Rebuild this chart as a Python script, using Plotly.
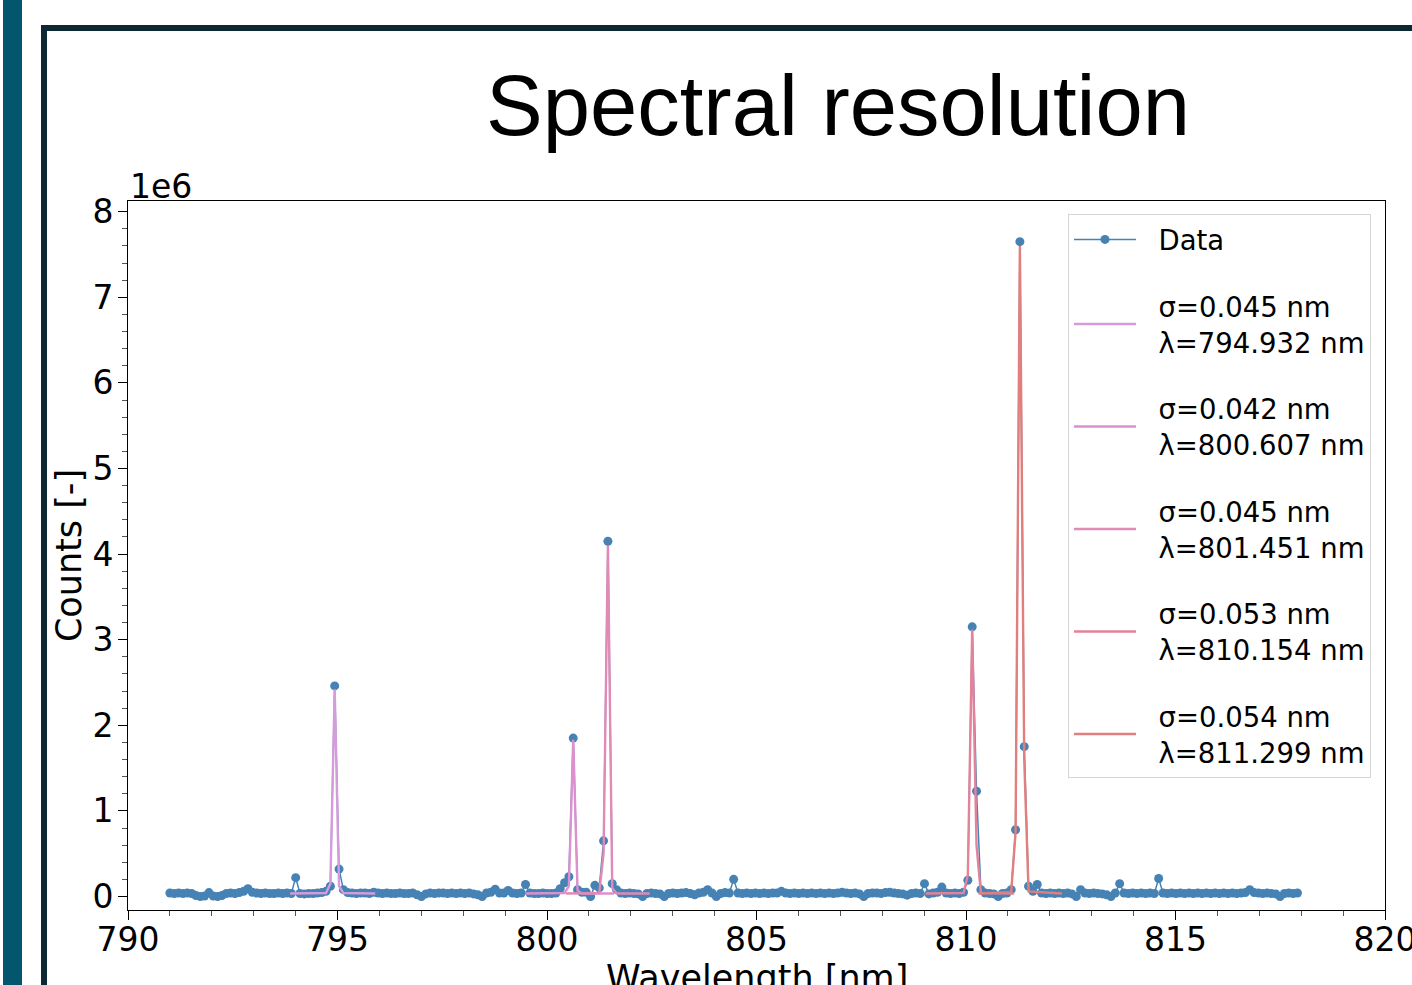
import plotly.graph_objects as go

# ---------------- data ----------------
wavelength_nm = [
    791.000, 791.104, 791.207, 791.311, 791.414, 791.518, 791.621, 791.725, 791.828, 791.932,
    792.035, 792.139, 792.242, 792.346, 792.449, 792.553, 792.656, 792.760, 792.863, 792.967,
    793.070, 793.174, 793.277, 793.381, 793.484, 793.588, 793.691, 793.795, 793.898, 794.002,
    794.105, 794.209, 794.312, 794.416, 794.519, 794.623, 794.726, 794.830, 794.933, 795.037,
    795.140, 795.244, 795.347, 795.451, 795.554, 795.658, 795.761, 795.865, 795.968, 796.072,
    796.175, 796.279, 796.382, 796.486, 796.589, 796.693, 796.796, 796.900, 797.003, 797.107,
    797.210, 797.314, 797.417, 797.521, 797.624, 797.728, 797.831, 797.935, 798.038, 798.142,
    798.245, 798.349, 798.452, 798.556, 798.659, 798.763, 798.866, 798.970, 799.073, 799.177,
    799.280, 799.384, 799.487, 799.591, 799.694, 799.798, 799.901, 800.005, 800.108, 800.212,
    800.315, 800.419, 800.522, 800.626, 800.729, 800.833, 800.936, 801.040, 801.143, 801.247,
    801.350, 801.454, 801.557, 801.661, 801.764, 801.868, 801.971, 802.075, 802.178, 802.282,
    802.385, 802.489, 802.592, 802.696, 802.799, 802.903, 803.006, 803.110, 803.213, 803.317,
    803.420, 803.524, 803.627, 803.731, 803.834, 803.938, 804.041, 804.145, 804.248, 804.352,
    804.455, 804.559, 804.662, 804.766, 804.869, 804.973, 805.076, 805.180, 805.283, 805.387,
    805.490, 805.594, 805.697, 805.801, 805.904, 806.008, 806.111, 806.215, 806.318, 806.422,
    806.525, 806.629, 806.732, 806.836, 806.939, 807.043, 807.146, 807.250, 807.353, 807.457,
    807.560, 807.664, 807.767, 807.871, 807.974, 808.078, 808.181, 808.285, 808.388, 808.492,
    808.595, 808.699, 808.802, 808.906, 809.009, 809.113, 809.216, 809.320, 809.423, 809.527,
    809.630, 809.734, 809.837, 809.941, 810.044, 810.148, 810.251, 810.355, 810.458, 810.562,
    810.665, 810.769, 810.872, 810.976, 811.079, 811.183, 811.286, 811.390, 811.493, 811.597,
    811.700, 811.804, 811.907, 812.011, 812.114, 812.218, 812.321, 812.425, 812.528, 812.632,
    812.735, 812.839, 812.942, 813.046, 813.149, 813.253, 813.356, 813.460, 813.563, 813.667,
    813.770, 813.874, 813.977, 814.081, 814.184, 814.288, 814.391, 814.495, 814.598, 814.702,
    814.805, 814.909, 815.012, 815.116, 815.219, 815.323, 815.426, 815.530, 815.633, 815.737,
    815.840, 815.944, 816.047, 816.151, 816.254, 816.358, 816.461, 816.565, 816.668, 816.772,
    816.875, 816.979, 817.082, 817.186, 817.289, 817.393, 817.496, 817.600, 817.703, 817.807,
    817.910,
]

# counts in units of 1e6
counts_1e6 = [
    0.040, 0.035, 0.040, 0.035, 0.040, 0.035, 0.010, 0.000, 0.005, 0.045,
    0.005, 0.000, 0.010, 0.035, 0.040, 0.035, 0.045, 0.060, 0.090, 0.050,
    0.040, 0.035, 0.040, 0.035, 0.035, 0.040, 0.035, 0.040, 0.035, 0.220,
    0.035, 0.030, 0.035, 0.035, 0.040, 0.045, 0.060, 0.120, 2.460, 0.320,
    0.080, 0.045, 0.040, 0.035, 0.040, 0.040, 0.035, 0.050, 0.040, 0.035,
    0.040, 0.035, 0.035, 0.040, 0.035, 0.035, 0.040, 0.020, 0.000, 0.030,
    0.040, 0.035, 0.040, 0.040, 0.035, 0.040, 0.035, 0.040, 0.035, 0.040,
    0.030, 0.020, 0.000, 0.040, 0.050, 0.085, 0.040, 0.040, 0.070, 0.040,
    0.035, 0.040, 0.140, 0.040, 0.035, 0.035, 0.040, 0.035, 0.035, 0.040,
    0.090, 0.160, 0.230, 1.850, 0.080, 0.050, 0.050, 0.000, 0.130, 0.100,
    0.650, 4.150, 0.150, 0.080, 0.040, 0.035, 0.040, 0.035, 0.030, 0.000,
    0.035, 0.040, 0.035, 0.030, 0.000, 0.035, 0.040, 0.035, 0.040, 0.045,
    0.035, 0.020, 0.040, 0.050, 0.080, 0.040, 0.000, 0.035, 0.045, 0.040,
    0.200, 0.040, 0.035, 0.040, 0.035, 0.040, 0.035, 0.040, 0.035, 0.040,
    0.040, 0.060, 0.040, 0.035, 0.040, 0.035, 0.040, 0.035, 0.040, 0.035,
    0.040, 0.035, 0.040, 0.035, 0.040, 0.050, 0.040, 0.035, 0.040, 0.030,
    0.000, 0.035, 0.040, 0.040, 0.035, 0.045, 0.050, 0.040, 0.035, 0.030,
    0.015, 0.035, 0.040, 0.035, 0.150, 0.030, 0.040, 0.050, 0.110, 0.040,
    0.035, 0.040, 0.035, 0.050, 0.190, 3.150, 1.230, 0.080, 0.040, 0.035,
    0.030, 0.000, 0.035, 0.040, 0.080, 0.780, 7.650, 1.750, 0.120, 0.060,
    0.140, 0.040, 0.035, 0.040, 0.035, 0.040, 0.035, 0.040, 0.030, 0.000,
    0.080, 0.040, 0.035, 0.040, 0.035, 0.030, 0.020, 0.000, 0.040, 0.150,
    0.040, 0.035, 0.040, 0.035, 0.040, 0.035, 0.040, 0.035, 0.210, 0.040,
    0.035, 0.040, 0.035, 0.040, 0.035, 0.040, 0.035, 0.040, 0.035, 0.040,
    0.035, 0.040, 0.035, 0.040, 0.035, 0.040, 0.035, 0.040, 0.045, 0.080,
    0.045, 0.040, 0.035, 0.040, 0.035, 0.030, 0.000, 0.035, 0.040, 0.035,
    0.040,
]

# Gaussian fits (as drawn), counts in units of 1e6
NB2 = "\u00a0\u00a0"
fit_sigma = ["σ=0.045 nm", "σ=0.042 nm", "σ=0.045 nm", "σ=0.053 nm", "σ=0.054 nm"]
fit_center = ["λ=794.932 nm", "λ=800.607 nm", "λ=801.451 nm", "λ=810.154 nm", "λ=811.299 nm"]
fit1_x = [793.870, 794.726, 794.830, 794.933, 795.037, 795.140, 795.900]
fit1_y = [0.035, 0.040, 0.150, 2.420, 0.120, 0.040, 0.035]
fit2_x = [799.500, 800.419, 800.522, 800.626, 800.729, 800.833, 801.600]
fit2_y = [0.035, 0.040, 0.120, 1.830, 0.070, 0.035, 0.035]
fit3_x = [800.450, 801.247, 801.350, 801.454, 801.557, 801.661, 802.450]
fit3_y = [0.035, 0.040, 0.500, 4.100, 0.100, 0.035, 0.035]
fit4_x = [809.040, 809.941, 810.044, 810.148, 810.251, 810.355, 811.150]
fit4_y = [0.035, 0.040, 0.250, 3.120, 0.600, 0.040, 0.035]
fit5_x = [810.300, 811.079, 811.183, 811.286, 811.390, 811.493, 812.290]
fit5_y = [0.035, 0.050, 0.750, 7.600, 1.600, 0.060, 0.035]
fit_colors = ["#D59CDB", "#DB90CF", "#E08BB7", "#E2839A", "#E17F7E"]

# ---------------- figure ----------------
W, H = 1412, 985
ML, MR, MT, MB = 128, 27, 201, 75
PW, PH = W - ML - MR, H - MT - MB


def px_x(px):
    return (px - ML) / PW


def px_y(py):
    return (H - MB - py) / PH


FONT = "DejaVu Sans"
fig = go.Figure()

fig.add_trace(go.Scatter(
    x=wavelength_nm, y=counts_1e6, mode="lines+markers", name=NB2 + "Data",
    line=dict(color="#4682B4", width=1.5),
    marker=dict(color="#4682B4", size=9),
    legendgroup="data",
))

fits = [(fit1_x, fit1_y), (fit2_x, fit2_y), (fit3_x, fit3_y), (fit4_x, fit4_y), (fit5_x, fit5_y)]
for (fx, fy), sig, lam, col in zip(fits, fit_sigma, fit_center, fit_colors):
    lab = NB2 + sig + "<br>" + NB2 + lam
    fig.add_trace(go.Scatter(
        x=fx, y=fy, mode="lines", name=lab,
        line=dict(color=col, width=2.4),
        legendgroup=lab,
    ))

axis_common = dict(
    showline=True, linecolor="black", linewidth=1, mirror=True,
    ticks="outside", ticklen=9, tickwidth=1, tickcolor="black",
    showgrid=False, zeroline=False, automargin=False,
    ticklabeloverflow="allow",
    tickfont=dict(family=FONT, size=33, color="black"),
)

fig.update_xaxes(
    range=[790, 820], dtick=5, tick0=790, ticklabelstandoff=-9,
    minor=dict(dtick=1, ticks="outside", ticklen=5, tickcolor="#555555", tickwidth=1),
    **axis_common,
)
fig.update_yaxes(
    range=[-0.158, 8.125], dtick=1, tick0=0, ticklabelstandoff=-2,
    minor=dict(dtick=0.2, ticks="outside", ticklen=5, tickcolor="#555555", tickwidth=1),
    title=dict(text="Counts [-]", font=dict(family=FONT, size=35, color="black"), standoff=0),
    **axis_common,
)

shapes = [
    # teal side bar of the slide
    dict(type="rect", xref="paper", yref="paper", layer="below",
         x0=px_x(3), x1=px_x(22), y0=px_y(H), y1=px_y(0),
         fillcolor="#04566E", line=dict(width=0)),
    # dark frame: top and left edges
    dict(type="rect", xref="paper", yref="paper", layer="below",
         x0=px_x(41), x1=px_x(W), y0=px_y(31), y1=px_y(25),
         fillcolor="#0B2833", line=dict(width=0)),
    dict(type="rect", xref="paper", yref="paper", layer="below",
         x0=px_x(41), x1=px_x(47), y0=px_y(H), y1=px_y(25),
         fillcolor="#0B2833", line=dict(width=0)),
]

fig.update_layout(
    width=W, height=H,
    margin=dict(l=ML, r=MR, t=MT, b=MB, pad=0, autoexpand=False),
    paper_bgcolor="white", plot_bgcolor="white",
    shapes=shapes,
    title=dict(text="Spectral resolution", x=838 / W, xanchor="center",
               y=1 - 105 / H, yanchor="middle",
               font=dict(family="Liberation Sans", size=85, color="black")),
    legend=dict(
        x=px_x(1371), xanchor="right", y=px_y(214), yanchor="top",
        bgcolor="white", bordercolor="#d6d6d6", borderwidth=1,
        font=dict(family=FONT, size=27.5, color="black"),
        tracegroupgap=28, itemwidth=62,
    ),
    annotations=[
        dict(text="1e6", xref="paper", yref="paper", x=0, y=px_y(186),
             xanchor="left", yanchor="middle", showarrow=False,
             font=dict(family=FONT, size=33, color="black")),
        # x-axis title (sits partly below the visible page, as in the slide)
        dict(text="Wavelength [nm]", xref="paper", yref="paper", x=0.5, y=px_y(978),
             xanchor="center", yanchor="middle", showarrow=False,
             font=dict(family=FONT, size=35, color="black")),
    ],
    showlegend=True,
)

fig.write_html("out.html", config={"displayModeBar": False},
               post_script="document.body.style.margin='0';")
